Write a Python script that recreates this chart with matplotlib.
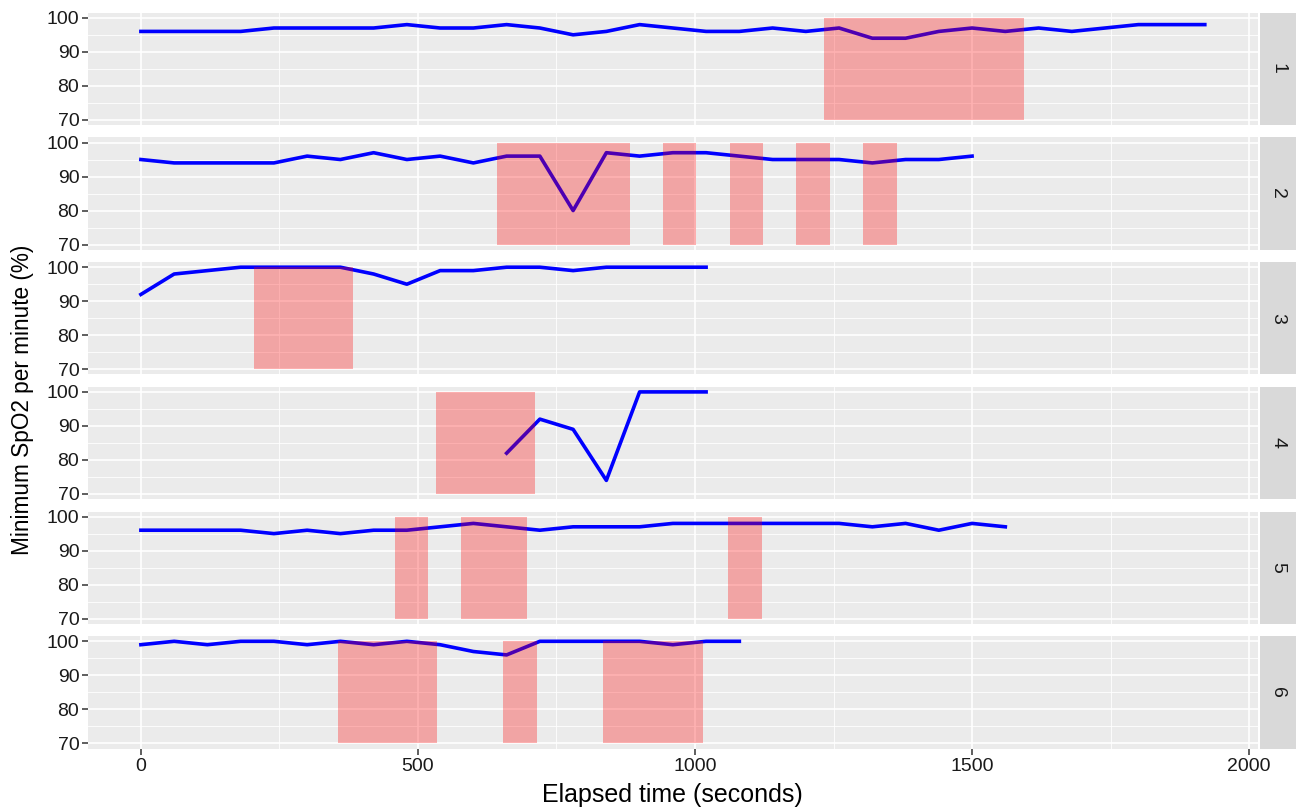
import matplotlib
matplotlib.use("Agg")
import matplotlib.pyplot as plt
from matplotlib.patches import Rectangle

plt.rcParams['font.family'] = ['Liberation Sans', 'DejaVu Sans']

# elapsed time (s) and minimum SpO2 (%) for each subject
t1 = [0, 60, 120, 180, 240, 300, 360, 420, 480, 540, 600, 660, 720, 780, 840, 900, 960,
      1020, 1080, 1140, 1200, 1260, 1320, 1380, 1440, 1500, 1560, 1620, 1680, 1740, 1800, 1860, 1920]
s1 = [96, 96, 96, 96, 97, 97, 97, 97, 98, 97, 97, 98, 97, 95, 96, 98, 97,
      96, 96, 97, 96, 97, 94, 94, 96, 97, 96, 97, 96, 97, 98, 98, 98]

t2 = [0, 60, 120, 180, 240, 300, 360, 420, 480, 540, 600, 660, 720, 780, 840, 900, 960,
      1020, 1080, 1140, 1200, 1260, 1320, 1380, 1440, 1500]
s2 = [95, 94, 94, 94, 94, 96, 95, 97, 95, 96, 94, 96, 96, 80, 97, 96, 97,
      97, 96, 95, 95, 95, 94, 95, 95, 96]

t3 = [0, 60, 120, 180, 240, 300, 360, 420, 480, 540, 600, 660, 720, 780, 840, 900, 960, 1020]
s3 = [92, 98, 99, 100, 100, 100, 100, 98, 95, 99, 99, 100, 100, 99, 100, 100, 100, 100]

t4 = [660, 720, 780, 840, 900, 960, 1020]
s4 = [82, 92, 89, 74, 100, 100, 100]

t5 = [0, 60, 120, 180, 240, 300, 360, 420, 480, 540, 600, 660, 720, 780, 840, 900, 960,
      1020, 1080, 1140, 1200, 1260, 1320, 1380, 1440, 1500, 1560]
s5 = [96, 96, 96, 96, 95, 96, 95, 96, 96, 97, 98, 97, 96, 97, 97, 97, 98,
      98, 98, 98, 98, 98, 97, 98, 96, 98, 97]

t6 = [0, 60, 120, 180, 240, 300, 360, 420, 480, 540, 600, 660, 720, 780, 840, 900, 960, 1020, 1080]
s6 = [99, 100, 99, 100, 100, 99, 100, 99, 100, 99, 97, 96, 100, 100, 100, 100, 99, 100, 100]

# event windows (start, end) in seconds
ev1 = [(1233, 1594)]
ev2 = [(643, 882), (942, 1002), (1063, 1123), (1183, 1243), (1304, 1364)]
ev3 = [(204, 383)]
ev4 = [(532, 711)]
ev5 = [(459, 518), (578, 697), (1060, 1120)]
ev6 = [(355, 534), (654, 714), (834, 1014)]

times = [t1, t2, t3, t4, t5, t6]
spo2 = [s1, s2, s3, s4, s5, s6]
events = [ev1, ev2, ev3, ev4, ev5, ev6]
labels = ['1', '2', '3', '4', '5', '6']

W, H = 1296, 808
fig = plt.figure(figsize=(W / 100, H / 100), dpi=100)

left, right = 87.7, 1258.0
strip_l, strip_r = 1259.5, 1296.0
top0, step, ph = 12.7, 124.7, 112.3
txt = '#1a1a1a'

for i in range(6):
    top = top0 + i * step
    ax = fig.add_axes([left / W, 1 - (top + ph) / H, (right - left) / W, ph / H])
    ax.set_facecolor('#EBEBEB')
    ax.set_xlim(-96, 2016)
    ax.set_ylim(68.5, 101.5)
    ax.set_xticks([0, 500, 1000, 1500, 2000])
    ax.set_xticks([250, 750, 1250, 1750], minor=True)
    ax.set_yticks([70, 80, 90, 100])
    ax.set_yticks([75, 85, 95], minor=True)
    ax.grid(which='major', color='white', lw=1.2)
    ax.grid(which='minor', color='white', lw=0.6)
    ax.set_axisbelow(True)
    for sp in ax.spines.values():
        sp.set_visible(False)
    ax.tick_params(axis='y', which='major', length=4, width=1.1, color='#333333',
                   labelsize=14, labelcolor=txt, pad=2)
    ax.tick_params(which='minor', length=0)
    if i < 5:
        ax.tick_params(axis='x', which='major', length=0, labelbottom=False)
    else:
        ax.tick_params(axis='x', which='major', length=4, width=1.1, color='#333333',
                       labelsize=14, labelcolor=txt, pad=3)

    ax.plot(times[i], spo2[i], color='blue', lw=2.6, zorder=2)
    for a, b in events[i]:
        ax.add_patch(Rectangle((a, 70), b - a, 30, facecolor='red', alpha=0.3,
                               edgecolor='none', zorder=3))

    # facet strip on the right
    sx = fig.add_axes([strip_l / W, 1 - (top + ph) / H, (strip_r - strip_l) / W, ph / H])
    sx.set_facecolor('#D9D9D9')
    sx.set_xticks([])
    sx.set_yticks([])
    for sp in sx.spines.values():
        sp.set_visible(False)
    sx.text(0.5, 0.5, labels[i], rotation=-90, ha='center', va='center',
            fontsize=14, color=txt, transform=sx.transAxes)

fig.text((left + right) / 2 / W, 1 - 795 / H, 'Elapsed time (seconds)',
         ha='center', va='center', fontsize=18, color='black')
fig.text(23 / W, 1 - 400 / H, 'Minimum SpO2 per minute (%)', rotation=90,
         ha='center', va='center', fontsize=16.3, color='black')

fig.savefig('out.png', dpi=100)
